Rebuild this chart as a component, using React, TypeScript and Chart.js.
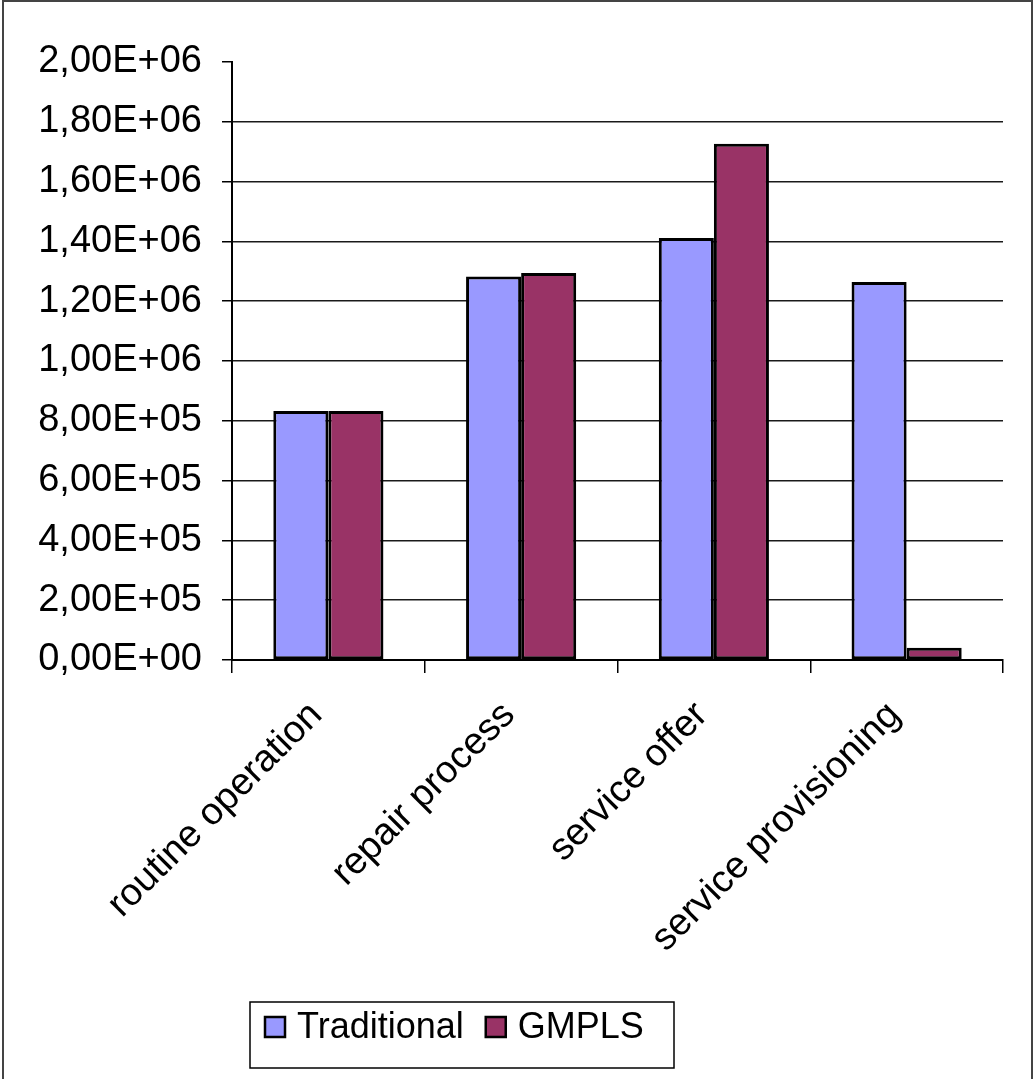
import React, { useEffect, useRef } from "react";
import { Chart, registerables } from "chart.js";

Chart.register(...registerables);

const categories = ["routine operation", "repair process", "service offer", "service provisioning"];
const traditional = [833000, 1283000, 1411000, 1264000];
const gmpls = [833000, 1294000, 1727000, 41000];
const seriesNames = ["Traditional", "GMPLS"];
const seriesColors = ["#9999FF", "#993366"];
const yMin = 0;
const yMax = 2000000;
const yStep = 200000;

const FONT = "'Liberation Sans', Arial, sans-serif";

// "2,00E+06" style labels with a decimal comma
function sciLabel(v: number): string {
  const [mant, exp] = v.toExponential(2).split("e");
  const sign = exp.startsWith("-") ? "-" : "+";
  const digits = exp.replace(/[+-]/, "").padStart(2, "0");
  return `${mant.replace(".", ",")}E${sign}${digits}`;
}

const framePlugin = {
  id: "frameAndLegend",
  afterDraw(chart: any) {
    const ctx = chart.ctx as CanvasRenderingContext2D;
    ctx.save();
    // outer frame
    ctx.strokeStyle = "#444";
    ctx.lineWidth = 2;
    ctx.strokeRect(3, 1, 1029, 1100);

    // boxed legend
    ctx.font = `36px ${FONT}`;
    ctx.textBaseline = "alphabetic";
    const boxL = 250, boxT = 1002, boxR = 674, boxB = 1068;
    ctx.lineWidth = 1.5;
    ctx.strokeStyle = "#000";
    ctx.strokeRect(boxL, boxT, boxR - boxL, boxB - boxT);
    let x = 265;
    const sw = 20;
    chart.data.datasets.forEach((ds: any) => {
      ctx.fillStyle = ds.backgroundColor;
      ctx.fillRect(x, 1017, sw, sw);
      ctx.lineWidth = 2.5;
      ctx.strokeStyle = "#000";
      ctx.strokeRect(x, 1017, sw, sw);
      x += sw + 12;
      ctx.fillStyle = "#000";
      ctx.fillText(ds.label, x, 1038);
      x += ctx.measureText(ds.label).width + 22;
    });
    ctx.restore();
  },
};

export default function App() {
  const ref = useRef<HTMLCanvasElement | null>(null);

  useEffect(() => {
    document.body.style.margin = "0";
    const canvas = ref.current!;
    const chart = new Chart(canvas, {
      type: "bar",
      data: {
        labels: categories,
        datasets: [
          { label: seriesNames[0], data: traditional, backgroundColor: seriesColors[0] },
          { label: seriesNames[1], data: gmpls, backgroundColor: seriesColors[1] },
        ].map((d) => ({
          ...d,
          borderColor: "#000",
          borderWidth: 3,
          borderSkipped: false,
          categoryPercentage: 2 / 3.5,
          barPercentage: 1,
        })),
      },
      options: {
        responsive: false,
        animation: false,
        devicePixelRatio: 1,
        layout: { padding: { top: 62, right: 32, left: 0, bottom: 0 } },
        plugins: {
          legend: { display: false },
          tooltip: { enabled: false },
          title: { display: false },
        },
        scales: {
          x: {
            type: "category",
            offset: true,
            grid: {
              display: true,
              drawOnChartArea: false,
              drawTicks: true,
              tickLength: 13,
              color: "#000",
              lineWidth: 1.5,
              offset: true,
            },
            border: { display: true, color: "#000", width: 2 },
            ticks: {
              autoSkip: false,
              minRotation: 45,
              maxRotation: 45,
              padding: 20,
              labelOffset: -12,
              color: "#000",
              font: { family: FONT, size: 38 },
            },
            afterFit: (s: any) => {
              s.height = 419;
            },
          },
          y: {
            min: yMin,
            max: yMax,
            grid: {
              color: (c: any) => (c.tick && c.tick.value === yMax ? "rgba(0,0,0,0)" : "#1a1a1a"),
              tickColor: "#000",
              lineWidth: 1.5,
              tickLength: 10,
            },
            border: { display: true, color: "#000", width: 2 },
            ticks: {
              stepSize: yStep,
              padding: 20,
              color: "#000",
              font: { family: FONT, size: 38 },
              callback: (v: any) => sciLabel(Number(v)),
            },
            afterFit: (s: any) => {
              s.width = 232;
            },
          },
        },
      },
      plugins: [framePlugin],
    });
    return () => chart.destroy();
  }, []);

  return <canvas ref={ref} width={1035} height={1079} style={{ display: "block" }} />;
}
